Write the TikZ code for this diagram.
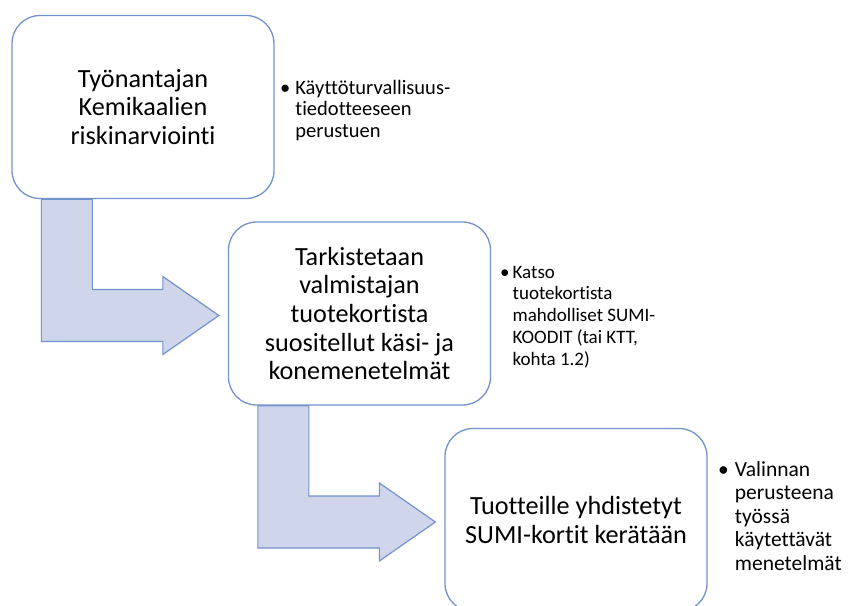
\documentclass[tikz,border=0pt]{standalone}
\usepackage{fontspec}
\setmainfont{Carlito}[Ligatures=NoCommon]
\usetikzlibrary{calc,backgrounds}
\definecolor{boxline}{RGB}{114,146,206}
\definecolor{arrowfill}{RGB}{207,213,234}
\begin{document}
\begin{tikzpicture}
[x=1pt,y=-1pt,
 stepbox/.style={draw=boxline,line width=1.3pt,fill=white,rounded corners=28pt,minimum width=262pt,minimum height=183pt,align=center,inner sep=0pt,font=\fontsize{26.2}{28.7}\selectfont},
 note/.style={anchor=base west,inner sep=0pt},
 bentarrow/.style={draw=boxline,line width=1.2pt,fill=arrowfill,line join=miter}]

\useasboundingbox (0,0) rectangle (850,605);
\clip (0,0) rectangle (850,605);

\node (t1) at (143,107) [stepbox] {Työnantajan\\Kemikaalien\\riskinarviointi};
\node (t2) at (359.5,313.5) [stepbox] {Tarkistetaan\\valmistajan\\tuotekortista\\suositellut käsi- ja\\konemenetelmät};
\node (t3) at (576,520) [stepbox] {Tuotteille yhdistetyt\\SUMI-kortit kerätään};

\node (n1) at (280,94) [note,font=\fontsize{20.5}{21.5}\selectfont] {\begin{tabular}[t]{@{}l@{\hspace{5pt}}l@{}}\textbullet & Käyttöturvallisuus-\\ & tiedotteeseen\\ & perustuen\end{tabular}};
\node (n2) at (500,278) [note,font=\fontsize{19}{21.8}\selectfont] {\begin{tabular}[t]{@{}l@{\hspace{3pt}}l@{}}\textbullet & Katso\\ & tuotekortista\\ & mahdolliset SUMI-\\ & KOODIT (tai KTT,\\ & kohta 1.2)\end{tabular}};
\node (n3) at (718,476) [note,font=\fontsize{21.5}{23.5}\selectfont] {\begin{tabular}[t]{@{}l@{\hspace{6pt}}l@{}}\textbullet & Valinnan\\ & perusteena\\ & työssä\\ & käytettävät\\ & menetelmät\end{tabular}};

\begin{scope}[on background layer]
\foreach \from/\to in {t1/t2,t2/t3}
	\draw[bentarrow] ($(\from.south west)+(30,0)$) -- ($(\from.south west)+(81,0)$) |- ($(\to.west)+(-65,-24)$)
		-- ++(0,-13) -- ($(\to.west)+(-9,2)$) -- ($(\to.west)+(-65,41)$)
		-- ++(0,-13) -| ($(\from.south west)+(30,0)$) -- cycle;
\end{scope}

\end{tikzpicture}
\end{document}
